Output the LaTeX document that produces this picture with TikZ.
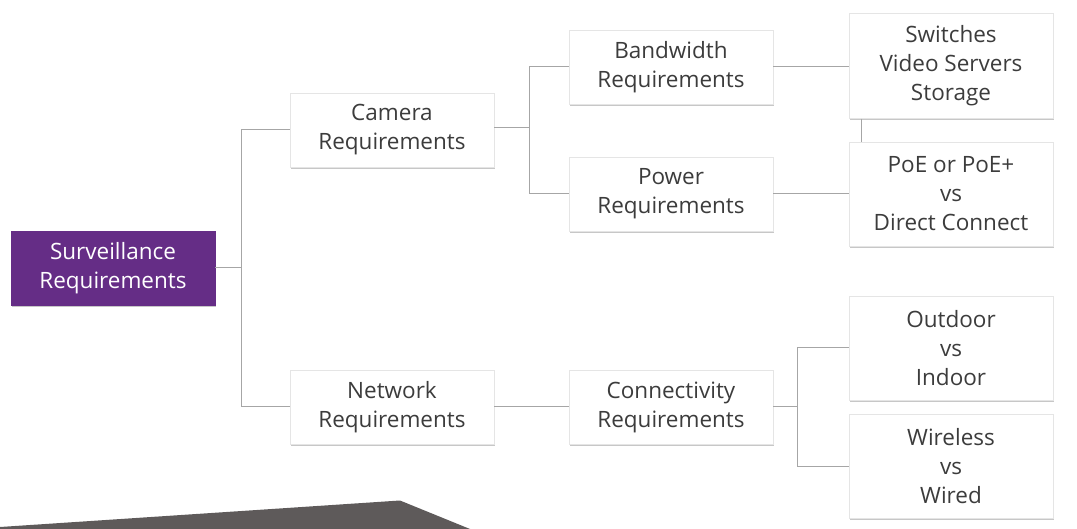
\documentclass[tikz,border=0pt]{standalone}
\usepackage{fontspec}
\setmainfont{Open Sans}
\usetikzlibrary{shadows}

\definecolor{survpurple}{HTML}{652D86}
\definecolor{boxtext}{HTML}{3C3C3C}
\definecolor{linkgray}{HTML}{A6A6A6}
\definecolor{floorgray}{HTML}{5E5A5A}

\tikzset{
  reqbox/.style={draw=black!10, fill=white, text=boxtext, align=center, inner sep=0pt,
    minimum width=204pt, minimum height=74pt, font=\fontsize{22.5}{29}\selectfont,
    drop shadow={shadow xshift=0.6pt, shadow yshift=-2pt, opacity=0.22, fill=black}},
  topbox/.style={reqbox, fill=survpurple, draw=survpurple, text=white},
  leafbox/.style={reqbox, minimum height=104pt},
  link/.style={linkgray, line width=1pt},
}

\begin{document}
\begin{tikzpicture}[x=1pt,y=-1pt]
			\useasboundingbox (0,0) rectangle (1077,529);
			% floor at the bottom left
			\fill[floorgray] (0,529) -- (0,527) -- (400,500.5) -- (470,529) -- cycle;
			\node[topbox] (surv) at (113,268) {Surveillance\\Requirements};
			\node[reqbox] (cam) at (392,130) {Camera\\Requirements};
			\node[reqbox] (net) at (392,407) {Network\\Requirements};
			\node[reqbox] (band) at (671,67) {Bandwidth\\Requirements};
			\node[reqbox] (pow) at (671,194) {Power\\Requirements};
			\node[reqbox] (conn) at (671,407) {Connectivity\\Requirements};
			\node[leafbox, minimum height=105pt] (sw) at (951,66) {Switches\\Video Servers\\Storage};
			\node[leafbox] (poe) at (951,194) {PoE or PoE+\\vs\\Direct Connect};
			\node[leafbox] (out) at (951,348) {Outdoor\\vs\\Indoor};
			\node[leafbox] (wir) at (951,466) {Wireless\\vs\\Wired};
			% connectors
			\draw[link] (surv.east) -- ++(26,0) |- (cam.west);
			\draw[link] (surv.east) -- ++(26,0) |- (net.west);
			\draw[link] ([yshift=2pt]cam.east) -- ++(35,0) |- (band.west);
			\draw[link] ([yshift=2pt]cam.east) -- ++(35,0) |- (pow.west);
			\draw[link] (band.east) -- (band.east -| sw.west);
			\draw[link] (pow.east) -- (poe.west);
			\draw[link] ([xshift=13pt]sw.south west) -- ([xshift=13pt]poe.north west);
			\draw[link] (net.east) -- (conn.west);
			\draw[link] (conn.east) -- ++(24,0) |- (out.west);
			\draw[link] (conn.east) -- ++(24,0) |- (wir.west);
\end{tikzpicture}
\end{document}
